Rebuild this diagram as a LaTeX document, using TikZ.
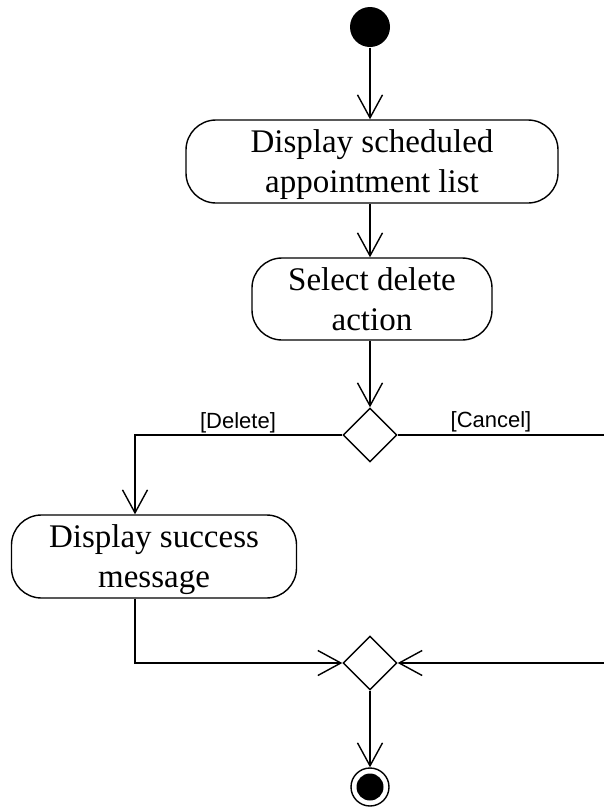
\documentclass[tikz,border=0pt]{standalone}
\usepackage{fontspec}
\setmainfont{Liberation Serif}
\newfontfamily\guardfont{Liberation Sans}
\usetikzlibrary{shapes.geometric,arrows.meta}
\begin{document}
\begin{tikzpicture}[x=1pt,y=-1pt,
  line width=1.4pt,
  flow/.style={-{Straight Barb[length=23pt,width=25pt,line width=1.4pt]}},
  actbox/.style={draw,rounded corners=30pt,align=center,inner sep=0pt,
    text depth=0pt,font=\fontsize{33}{40}\selectfont},
  gate/.style={draw,diamond,minimum size=54pt,inner sep=0pt,fill=white},
  guard/.style={anchor=base,inner sep=0pt,font=\guardfont\fontsize{22}{26}\selectfont}]
\useasboundingbox (0,0) rectangle (604,809);

% initial and final nodes
\node[circle,fill=black,minimum size=40pt,inner sep=0pt] (start) at (370,27) {};
\node[circle,draw,minimum size=38pt,inner sep=0pt] (stop) at (370,787) {};
\fill (stop.center) circle (13.5);

% actions
\node[actbox,minimum width=372pt,minimum height=83pt] (list) at (372,161.5)
  {Display scheduled\\appointment list};
\node[actbox,minimum width=240pt,minimum height=82pt] (select) at (372,299)
  {Select delete\\action};
\node[actbox,minimum width=285pt,minimum height=83pt] (done) at (154,556.5)
  {Display success\\message};

% decision and merge
\node[gate] (decide) at (370,435) {};
\node[gate] (merge) at (370,663) {};

% routing columns for the two branches
\coordinate (leftcol) at (135,0);
\coordinate (rightcol) at (607,0);

% flows
\draw[flow] (start) -- (start |- list.north);
\draw[flow] (start |- list.south) -- (start |- select.north);
\draw[flow] (decide |- select.south) -- (decide.north);
\draw[flow] (decide.west) -| (leftcol |- done.north);
\draw[flow] (leftcol |- done.south) |- (merge.west);
\draw[flow] (decide.east) -- (rightcol |- decide) -- (rightcol |- merge) -- (merge.east);
\draw[flow] (merge.south) -- (stop.north);

% guards
\node[guard] (gdel) at (238,428) {[Delete]};
\node[guard] (gcan) at (491,427) {[Cancel]};
\end{tikzpicture}
\end{document}
